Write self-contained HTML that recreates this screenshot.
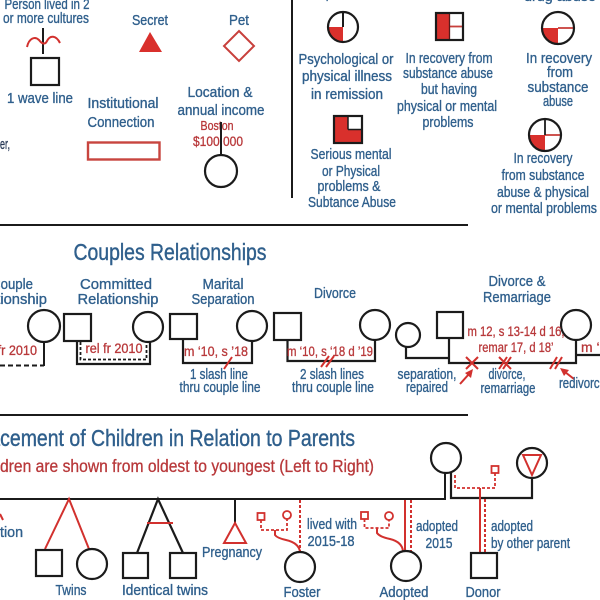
<!DOCTYPE html>
<html><head><meta charset="utf-8"><style>
html,body{margin:0;padding:0;background:#fff;}
svg{display:block;}
.b{fill:#2f5f8c;stroke:#2f5f8c;stroke-width:0.35;font-family:"Liberation Sans Narrow","Liberation Sans",sans-serif;font-size:15px;}
.r{fill:#b8383a;stroke:#b8383a;stroke-width:0.3;font-family:"Liberation Sans Narrow","Liberation Sans",sans-serif;font-size:13.5px;}
.h{fill:#2f5f8c;stroke:#2f5f8c;stroke-width:0.4;font-family:"Liberation Sans Narrow","Liberation Sans",sans-serif;font-size:23px;}
.k{fill:none;stroke:#1b1b1b;stroke-width:2.2;}
.kw{fill:#fff;stroke:#1b1b1b;stroke-width:2.2;}
.rs{fill:none;stroke:#d2312e;stroke-width:2;}
.rd{fill:none;stroke:#d2312e;stroke-width:2;stroke-dasharray:3,2;}
</style></head><body>
<svg width="600" height="600" viewBox="0 0 600 600" xmlns="http://www.w3.org/2000/svg">
<rect width="600" height="600" fill="#fff"/>

<!-- ===== TOP SECTION ===== -->
<text class="b" x="47" y="9" text-anchor="middle" textLength="85" lengthAdjust="spacingAndGlyphs">Person lived in 2</text>
<text class="b" x="46" y="23" text-anchor="middle" textLength="86" lengthAdjust="spacingAndGlyphs">or more cultures</text>
<line x1="43" y1="28" x2="43" y2="54" stroke="#1b1b1b" stroke-width="2"/>
<path d="M27,47 C29,38 35,36 39,40 C42,44 45,45 47,41 C50,35 56,35 60,43" class="rs"/>
<rect x="31" y="58" width="28" height="27" class="kw"/>
<text class="b" x="40" y="103" text-anchor="middle" textLength="66" lengthAdjust="spacingAndGlyphs">1 wave line</text>
<text class="b" x="0" y="149" textLength="10" lengthAdjust="spacingAndGlyphs" style="fill:#283a58;stroke:#283a58">er,</text>

<text class="b" x="150" y="25" text-anchor="middle" textLength="36" lengthAdjust="spacingAndGlyphs">Secret</text>
<polygon points="150,32 139,52 162,52" fill="#d9302c"/>
<text class="b" x="123" y="108" text-anchor="middle" textLength="71" lengthAdjust="spacingAndGlyphs">Institutional</text>
<text class="b" x="121" y="127" text-anchor="middle" textLength="67" lengthAdjust="spacingAndGlyphs">Connection</text>
<rect x="88" y="142.5" width="71.5" height="17" fill="none" stroke="#c8453f" stroke-width="2.4"/>

<text class="b" x="239" y="25" text-anchor="middle" textLength="20" lengthAdjust="spacingAndGlyphs">Pet</text>
<polygon points="239,31 254,46 239,61 224,46" fill="none" stroke="#c8403c" stroke-width="2"/>

<text class="b" x="220" y="97" text-anchor="middle" textLength="65" lengthAdjust="spacingAndGlyphs">Location &amp;</text>
<text class="b" x="221" y="115" text-anchor="middle" textLength="87" lengthAdjust="spacingAndGlyphs">annual income</text>
<text class="r" x="217" y="130" text-anchor="middle" textLength="33" lengthAdjust="spacingAndGlyphs" style="font-size:12.5px">Boston</text>
<text class="r" x="218" y="146" text-anchor="middle" textLength="50" lengthAdjust="spacingAndGlyphs">$100,000</text>
<line x1="221" y1="122" x2="221" y2="155" stroke="#1b1b1b" stroke-width="2"/>
<circle cx="221" cy="171" r="16" class="kw"/>

<line x1="292" y1="0" x2="292" y2="198" stroke="#1b1b1b" stroke-width="2"/>

<!-- psych circle -->
<text class="b" x="343" y="-2" text-anchor="middle" textLength="60" lengthAdjust="spacingAndGlyphs">impairment</text>
<circle cx="343" cy="27" r="15" fill="#fff"/>
<path d="M343,27 L328,27 A15,15 0 0 0 343,42 Z" fill="#d9302c"/>
<line x1="343" y1="12" x2="343" y2="27" stroke="#1b1b1b" stroke-width="2"/>
<circle cx="343" cy="27" r="15" class="k"/>
<text class="b" x="346" y="64" text-anchor="middle" textLength="95" lengthAdjust="spacingAndGlyphs">Psychological or</text>
<text class="b" x="347" y="81" text-anchor="middle" textLength="90" lengthAdjust="spacingAndGlyphs">physical illness</text>
<text class="b" x="347" y="99" text-anchor="middle" textLength="72" lengthAdjust="spacingAndGlyphs">in remission</text>

<!-- serious square -->
<rect x="334" y="116" width="28" height="27" fill="#d9302c"/>
<rect x="348" y="116" width="14" height="13.5" fill="#fff"/>
<line x1="348" y1="116" x2="348" y2="129.5" stroke="#1b1b1b" stroke-width="1.5"/>
<line x1="348" y1="129.5" x2="362" y2="129.5" stroke="#1b1b1b" stroke-width="1.5"/>
<rect x="334" y="116" width="28" height="27" class="k"/>
<text class="b" x="351" y="159" text-anchor="middle" textLength="81" lengthAdjust="spacingAndGlyphs">Serious mental</text>
<text class="b" x="351" y="176" text-anchor="middle" textLength="58" lengthAdjust="spacingAndGlyphs">or Physical</text>
<text class="b" x="349" y="191" text-anchor="middle" textLength="63" lengthAdjust="spacingAndGlyphs">problems &amp;</text>
<text class="b" x="352" y="207" text-anchor="middle" textLength="88" lengthAdjust="spacingAndGlyphs">Subtance Abuse</text>

<!-- recovery square -->
<rect x="436" y="13" width="27" height="27" fill="#fff"/>
<rect x="436" y="13" width="13.5" height="27" fill="#d9302c"/>
<line x1="449.5" y1="26.5" x2="463" y2="26.5" stroke="#c8403c" stroke-width="1.8"/>
<line x1="449.5" y1="13" x2="449.5" y2="40" stroke="#5a1a1a" stroke-width="1.3"/>
<rect x="436" y="13" width="27" height="27" class="k"/>
<text class="b" x="449" y="63" text-anchor="middle" textLength="87" lengthAdjust="spacingAndGlyphs">In recovery from</text>
<text class="b" x="448" y="78" text-anchor="middle" textLength="90" lengthAdjust="spacingAndGlyphs">substance abuse</text>
<text class="b" x="449" y="94" text-anchor="middle" textLength="56" lengthAdjust="spacingAndGlyphs">but having</text>
<text class="b" x="447" y="111" text-anchor="middle" textLength="100" lengthAdjust="spacingAndGlyphs">physical or mental</text>
<text class="b" x="448" y="127" text-anchor="middle" textLength="51" lengthAdjust="spacingAndGlyphs">problems</text>

<!-- recovery circle -->
<text class="b" x="560" y="1" text-anchor="middle" textLength="72" lengthAdjust="spacingAndGlyphs">drug abuse</text>
<circle cx="558" cy="28" r="16" fill="#fff"/>
<path d="M558,28 L542,28 A16,16 0 0 0 558,44 Z" fill="#d9302c"/>
<line x1="558" y1="28" x2="574" y2="28" stroke="#c8403c" stroke-width="1.8"/>
<circle cx="558" cy="28" r="16" class="k"/>
<text class="b" x="559" y="63" text-anchor="middle" textLength="66" lengthAdjust="spacingAndGlyphs">In recovery</text>
<text class="b" x="560" y="77" text-anchor="middle" textLength="26" lengthAdjust="spacingAndGlyphs">from</text>
<text class="b" x="558" y="92" text-anchor="middle" textLength="61" lengthAdjust="spacingAndGlyphs">substance</text>
<text class="b" x="558" y="106" text-anchor="middle" textLength="30" lengthAdjust="spacingAndGlyphs">abuse</text>

<!-- circle cross -->
<circle cx="545" cy="135" r="16" fill="#fff"/>
<path d="M545,135 L529,135 A16,16 0 0 0 545,151 Z" fill="#d9302c"/>
<line x1="545" y1="135" x2="561" y2="135" stroke="#c8403c" stroke-width="1.8"/>
<line x1="545" y1="119" x2="545" y2="135" stroke="#1b1b1b" stroke-width="1.8"/>
<circle cx="545" cy="135" r="16" class="k"/>
<text class="b" x="543" y="163" text-anchor="middle" textLength="59" lengthAdjust="spacingAndGlyphs">In recovery</text>
<text class="b" x="543" y="180" text-anchor="middle" textLength="83" lengthAdjust="spacingAndGlyphs">from substance</text>
<text class="b" x="543" y="197" text-anchor="middle" textLength="92" lengthAdjust="spacingAndGlyphs">abuse &amp; physical</text>
<text class="b" x="544" y="213" text-anchor="middle" textLength="106" lengthAdjust="spacingAndGlyphs">or mental problems</text>

<line x1="0" y1="225" x2="468" y2="225" stroke="#1b1b1b" stroke-width="2"/>

<!-- ===== COUPLES ===== -->
<text class="h" x="170" y="260" text-anchor="middle" textLength="193" lengthAdjust="spacingAndGlyphs">Couples Relationships</text>

<!-- couple relationship (cut) -->
<text class="b" x="-9" y="289" textLength="42" lengthAdjust="spacingAndGlyphs">Couple</text>
<text class="b" x="-34" y="304" textLength="81" lengthAdjust="spacingAndGlyphs">Relationship</text>
<circle cx="44" cy="326" r="16" class="kw"/>
<line x1="44" y1="342" x2="44" y2="366" stroke="#1b1b1b" stroke-width="2"/>
<line x1="0" y1="365.5" x2="44" y2="365.5" stroke="#1b1b1b" stroke-width="2" stroke-dasharray="5,3"/>
<text class="r" x="-20" y="355" textLength="57" lengthAdjust="spacingAndGlyphs">rel fr 2010</text>

<!-- committed -->
<text class="b" x="116" y="289" text-anchor="middle" textLength="72" lengthAdjust="spacingAndGlyphs">Committed</text>
<text class="b" x="118" y="304" text-anchor="middle" textLength="81" lengthAdjust="spacingAndGlyphs">Relationship</text>
<rect x="64" y="314" width="27" height="27" class="kw"/>
<circle cx="148" cy="327" r="15" class="kw"/>
<path d="M77,341 L77,364 L150,364 L150,342" class="k"/>
<path d="M80.5,342 L80.5,359.5 L146.5,359.5 L146.5,342" fill="none" stroke="#1b1b1b" stroke-width="1.8" stroke-dasharray="3,2"/>
<text class="r" x="114" y="353" text-anchor="middle" textLength="57" lengthAdjust="spacingAndGlyphs">rel fr 2010</text>

<!-- marital separation -->
<text class="b" x="223" y="289" text-anchor="middle" textLength="41" lengthAdjust="spacingAndGlyphs">Marital</text>
<text class="b" x="223" y="304" text-anchor="middle" textLength="63" lengthAdjust="spacingAndGlyphs">Separation</text>
<rect x="170" y="314" width="27" height="25" class="kw"/>
<circle cx="252" cy="326" r="15" class="kw"/>
<path d="M183,339 L183,363 L252,363 L252,341" class="k"/>
<text class="r" x="216" y="356" text-anchor="middle" textLength="64" lengthAdjust="spacingAndGlyphs">m ‘10, s ’18</text>
<line x1="224" y1="369" x2="232" y2="357" stroke="#d2312e" stroke-width="2"/>
<text class="b" x="219" y="379" text-anchor="middle" textLength="58" lengthAdjust="spacingAndGlyphs">1 slash line</text>
<text class="b" x="220" y="392" text-anchor="middle" textLength="81" lengthAdjust="spacingAndGlyphs">thru couple line</text>

<!-- divorce -->
<text class="b" x="335" y="298" text-anchor="middle" textLength="42" lengthAdjust="spacingAndGlyphs">Divorce</text>
<rect x="274" y="313" width="27" height="27" class="kw"/>
<circle cx="375" cy="325" r="15" class="kw"/>
<path d="M287.5,340 L287.5,361 L375,361 L375,340" class="k"/>
<text class="r" x="330" y="356" text-anchor="middle" textLength="86" lengthAdjust="spacingAndGlyphs">m ‘10, s ‘18 d ’19</text>
<line x1="321" y1="367" x2="329" y2="356" stroke="#d2312e" stroke-width="2"/>
<line x1="326" y1="367" x2="334" y2="356" stroke="#d2312e" stroke-width="2"/>
<text class="b" x="332" y="379" text-anchor="middle" textLength="64" lengthAdjust="spacingAndGlyphs">2 slash lines</text>
<text class="b" x="333" y="392" text-anchor="middle" textLength="82" lengthAdjust="spacingAndGlyphs">thru couple line</text>

<!-- divorce & remarriage -->
<text class="b" x="517" y="286" text-anchor="middle" textLength="57" lengthAdjust="spacingAndGlyphs">Divorce &amp;</text>
<text class="b" x="517" y="302" text-anchor="middle" textLength="68" lengthAdjust="spacingAndGlyphs">Remarriage</text>
<circle cx="408" cy="335" r="12" class="kw"/>
<rect x="437" y="312" width="26" height="26" class="kw"/>
<circle cx="576" cy="325" r="15" class="kw"/>
<path d="M406,347 L406,358 L449,358" class="k"/>
<path d="M449,338 L449,363 L576,363 L576,340" class="k"/>
<path d="M576,355 L600,355" class="k"/>
<text class="r" x="516" y="336" text-anchor="middle" textLength="97" lengthAdjust="spacingAndGlyphs">m 12, s 13-14 d 16,</text>
<text class="r" x="516" y="352" text-anchor="middle" textLength="75" lengthAdjust="spacingAndGlyphs">remar 17, d 18’</text>
<text class="r" x="581" y="352" textLength="34" lengthAdjust="spacingAndGlyphs">m ‘10</text>
<!-- marks -->
<line x1="466" y1="357" x2="478" y2="369" stroke="#d2312e" stroke-width="2"/>
<line x1="466" y1="369" x2="478" y2="357" stroke="#d2312e" stroke-width="2"/>
<line x1="499" y1="357" x2="511" y2="369" stroke="#d2312e" stroke-width="2"/>
<line x1="499" y1="369" x2="507" y2="357" stroke="#d2312e" stroke-width="2"/>
<line x1="503" y1="369" x2="511" y2="357" stroke="#d2312e" stroke-width="2"/>
<line x1="550" y1="369" x2="557" y2="357" stroke="#d2312e" stroke-width="2"/>
<line x1="555" y1="369" x2="562" y2="357" stroke="#d2312e" stroke-width="2"/>
<!-- arrows -->
<line x1="460" y1="384" x2="469" y2="374" stroke="#d2312e" stroke-width="2"/>
<polygon points="473,369 471,378 465,373" fill="#d2312e"/>
<line x1="574" y1="379" x2="565" y2="372" stroke="#d2312e" stroke-width="2"/>
<polygon points="560,368 569,370 564,376" fill="#d2312e"/>
<text class="b" x="427" y="379" text-anchor="middle" textLength="59" lengthAdjust="spacingAndGlyphs">separation,</text>
<text class="b" x="427" y="392" text-anchor="middle" textLength="42" lengthAdjust="spacingAndGlyphs">repaired</text>
<text class="b" x="507" y="379" text-anchor="middle" textLength="37" lengthAdjust="spacingAndGlyphs">divorce,</text>
<text class="b" x="508" y="393" text-anchor="middle" textLength="55" lengthAdjust="spacingAndGlyphs">remarriage</text>
<text class="b" x="559" y="388" textLength="47" lengthAdjust="spacingAndGlyphs">redivorce</text>

<line x1="0" y1="415" x2="468" y2="415" stroke="#1b1b1b" stroke-width="2"/>

<!-- ===== PLACEMENT ===== -->
<text class="h" x="355" y="446" text-anchor="end" textLength="383" lengthAdjust="spacingAndGlyphs">Placement of Children in Relation to Parents</text>
<text class="r" x="374" y="472" text-anchor="end" textLength="401" lengthAdjust="spacingAndGlyphs" style="font-size:17.5px">Children are shown from oldest to youngest (Left to Right)</text>

<line x1="0" y1="499" x2="446" y2="499" stroke="#1b1b1b" stroke-width="2"/>
<text class="b" x="0" y="537" textLength="23" lengthAdjust="spacingAndGlyphs">tion</text>
<line x1="0" y1="514" x2="3" y2="520" stroke="#d2312e" stroke-width="2"/>

<!-- twins -->
<path d="M45,549 L69,499 L89,549" class="rs"/>
<rect x="36" y="550" width="26" height="26" class="kw"/>
<circle cx="92" cy="564" r="15" class="kw"/>
<text class="b" x="71" y="595" text-anchor="middle" textLength="31" lengthAdjust="spacingAndGlyphs">Twins</text>

<!-- identical twins -->
<path d="M137,553 L158,499 L183,553" class="k"/>
<line x1="147" y1="523" x2="173" y2="523" stroke="#d2312e" stroke-width="2"/>
<rect x="123" y="553" width="25" height="25" class="kw"/>
<rect x="170" y="553" width="26" height="25" class="kw"/>
<text class="b" x="165" y="595" text-anchor="middle" textLength="86" lengthAdjust="spacingAndGlyphs">Identical twins</text>

<!-- pregnancy -->
<line x1="235" y1="499" x2="235" y2="523" stroke="#1b1b1b" stroke-width="2"/>
<polygon points="235,523 224,543 246,543" fill="none" stroke="#d2312e" stroke-width="2"/>
<text class="b" x="232" y="557" text-anchor="middle" textLength="60" lengthAdjust="spacingAndGlyphs">Pregnancy</text>

<!-- foster -->
<line x1="300" y1="500" x2="300" y2="552" class="rd"/>
<rect x="257.5" y="513" width="7" height="7" fill="none" stroke="#d2312e" stroke-width="1.8"/>
<circle cx="287" cy="515" r="4" fill="none" stroke="#d2312e" stroke-width="1.8"/>
<path d="M261,520 L261,530 L287,530 L287,519" fill="none" stroke="#d2312e" stroke-width="1.8" stroke-dasharray="3,2"/>
<path d="M275,530 L275,535 Q277,538 286,540 Q299,543 300,552" fill="none" stroke="#d2312e" stroke-width="2"/>
<circle cx="300" cy="567" r="15" class="kw"/>
<text class="b" x="302" y="597" text-anchor="middle" textLength="37" lengthAdjust="spacingAndGlyphs">Foster</text>
<text class="b" x="332" y="529" text-anchor="middle" textLength="50" lengthAdjust="spacingAndGlyphs">lived with</text>
<text class="b" x="331" y="546" text-anchor="middle" textLength="47" lengthAdjust="spacingAndGlyphs">2015-18</text>

<!-- adopted -->
<line x1="405" y1="500" x2="405" y2="551" class="rs"/>
<line x1="411" y1="500" x2="411" y2="551" class="rd"/>
<rect x="361" y="512" width="7" height="7" fill="none" stroke="#d2312e" stroke-width="1.8"/>
<circle cx="389" cy="516" r="4" fill="none" stroke="#d2312e" stroke-width="1.8"/>
<path d="M364.5,519 L364.5,528 L389,528 L389,520" fill="none" stroke="#d2312e" stroke-width="1.8" stroke-dasharray="3,2"/>
<path d="M377,528 L377,533 Q380,537 390,539 Q402,542 403,551" fill="none" stroke="#d2312e" stroke-width="2"/>
<circle cx="406" cy="566" r="15" class="kw"/>
<text class="b" x="404" y="597" text-anchor="middle" textLength="49" lengthAdjust="spacingAndGlyphs">Adopted</text>
<text class="b" x="437" y="531" text-anchor="middle" textLength="42" lengthAdjust="spacingAndGlyphs">adopted</text>
<text class="b" x="439" y="548" text-anchor="middle" textLength="27" lengthAdjust="spacingAndGlyphs">2015</text>

<!-- parents right -->
<circle cx="446" cy="458" r="15" class="kw"/>
<line x1="445" y1="473" x2="445" y2="500" stroke="#1b1b1b" stroke-width="2"/>
<path d="M451,473 L451,498 L532,498 L532,478" class="k"/>
<circle cx="532" cy="463" r="15" class="kw"/>
<polygon points="523,455 541,455 532,475" fill="none" stroke="#d2312e" stroke-width="2"/>
<path d="M455,475 L455,488 L495,488 L495,473" fill="none" stroke="#d2312e" stroke-width="1.8" stroke-dasharray="3,2"/>
<rect x="491.5" y="466" width="7" height="7" fill="none" stroke="#d2312e" stroke-width="1.8"/>
<line x1="480" y1="488" x2="480" y2="553" class="rs"/>
<line x1="485" y1="499" x2="485" y2="553" class="rd"/>
<rect x="471" y="553" width="26" height="25" class="kw"/>
<text class="b" x="483" y="597" text-anchor="middle" textLength="35" lengthAdjust="spacingAndGlyphs">Donor</text>
<text class="b" x="491" y="531" textLength="42" lengthAdjust="spacingAndGlyphs">adopted</text>
<text class="b" x="491" y="548" textLength="79" lengthAdjust="spacingAndGlyphs">by other parent</text>
</svg>
</body></html>
